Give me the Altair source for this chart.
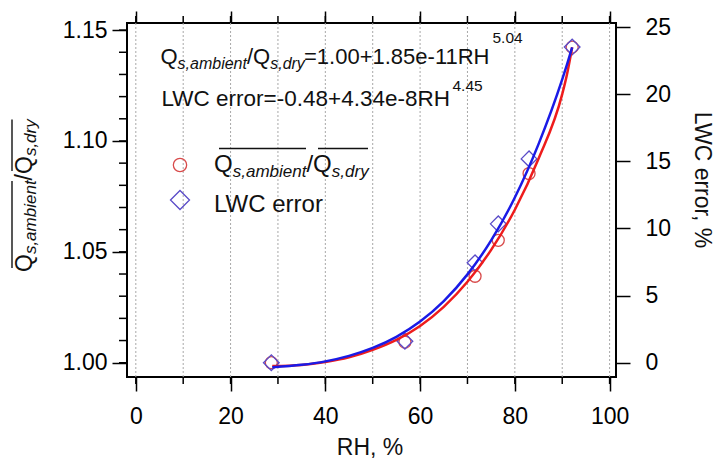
import altair as alt
import pandas as pd

# ---------------- data ----------------
rh_pts = [28.6, 56.8, 71.6, 76.5, 83.0, 92.1]
q_pts = [1.000, 1.0093, 1.039, 1.0552, 1.0853, 1.1423]
lwc_pts = [0.0, 1.6, 7.44, 10.34, 15.18, 23.51]

rh_fit = [28.8, 35, 40, 45, 50, 55, 60, 65, 70, 75, 80, 85, 90, 91, 92.1]
q_fit = [0.9985, 0.9990, 1.0003, 1.0024, 1.0058, 1.0103, 1.0166, 1.0252,
         1.0365, 1.0509, 1.0690, 1.0920, 1.1211, 1.1300, 1.1423]
lwc_fit = [-0.34, -0.16, 0.10, 0.51, 1.10, 1.93, 3.07, 4.59,
           6.58, 9.11, 12.30, 16.28, 21.10, 22.20, 23.48]

x_major = [0, 20, 40, 60, 80, 100]
x_minor = [0, 10, 20, 30, 40, 50, 60, 70, 80, 90, 100]
q_major = [1.00, 1.05, 1.10, 1.15]
q_minor = [1.00, 1.01, 1.02, 1.03, 1.04, 1.05, 1.06, 1.07, 1.08, 1.09,
           1.10, 1.11, 1.12, 1.13, 1.14, 1.15]
lwc_ticks = [0, 5, 10, 15, 20, 25]

X_DOM = [-1.86, 101.35]
Q_DOM = [0.99356, 1.1532]
L_DOM = [-1.064, 25.30]

# ---------------- style ----------------
FONT = "Liberation Sans"
TXT = "#111111"
RED_L = "#ee1c1c"
BLUE_L = "#1a1ae6"
RED_M = "#d84a4a"
BLUE_M = "#5a4bc8"
GRID = "#a8a8a8"
OX, OY = 127, 23
W, H = 489, 354

pts = pd.DataFrame({"rh": rh_pts, "q": q_pts, "lwc": lwc_pts})
fit = pd.DataFrame({"rh": rh_fit, "q": q_fit, "lwc": lwc_fit})
xminor_df = pd.DataFrame({"rh": x_minor})
qminor_df = pd.DataFrame({"q": q_minor})
one = pd.DataFrame({"k": [0]})

xs = alt.Scale(domain=X_DOM, nice=False, zero=False)
qs = alt.Scale(domain=Q_DOM, nice=False, zero=False)
ls = alt.Scale(domain=L_DOM, nice=False, zero=False)

common = dict(domain=False, title=None, tickColor="black", tickWidth=1.5,
              labelFont=FONT, labelFontSize=23, labelColor="black",
              labelFlush=False, labelOverlap=False, grid=False)

# grid and minor ticks drawn through the scales
grid = alt.Chart(xminor_df).mark_rule(color=GRID, strokeDash=[2, 2], strokeWidth=1).encode(
    x=alt.X("rh:Q", scale=xs, axis=None), y=alt.value(0), y2=alt.value(H))
xminor_bottom = alt.Chart(xminor_df).mark_rule(color="black", strokeWidth=1.5).encode(
    x=alt.X("rh:Q", scale=xs, axis=None), y=alt.value(H), y2=alt.value(H + 7))
xminor_top = alt.Chart(xminor_df).mark_rule(color="black", strokeWidth=1.5).encode(
    x=alt.X("rh:Q", scale=xs, axis=None), y=alt.value(0), y2=alt.value(-7))
qminor_left = alt.Chart(qminor_df).mark_rule(color="black", strokeWidth=1.5).encode(
    y=alt.Y("q:Q", scale=qs, axis=None), x=alt.value(0), x2=alt.value(-8))

circles = alt.Chart(pts).mark_point(shape="circle", size=144, filled=False,
                                    color=RED_M, strokeWidth=1.3, opacity=1).encode(
    x=alt.X("rh:Q", scale=xs, axis=None),
    y=alt.Y("q:Q", scale=qs, axis=None),
)
diamonds = alt.Chart(pts).mark_point(shape="diamond", size=246, filled=False,
                                     color=BLUE_M, strokeWidth=1.3, opacity=1).encode(
    x=alt.X("rh:Q", scale=xs, axis=None),
    y=alt.Y("lwc:Q", scale=ls, axis=None),
)
red_line = alt.Chart(fit).mark_line(color=RED_L, strokeWidth=2.5, interpolate="monotone").encode(
    x=alt.X("rh:Q", scale=xs, axis=alt.Axis(orient="bottom", values=x_major, tickSize=14,
                                           labelPadding=14, **common)),
    y=alt.Y("q:Q", scale=qs, axis=alt.Axis(orient="left", values=q_major, tickSize=15,
                                          labelPadding=5, format=".2f", **common)),
)
blue_line = alt.Chart(fit).mark_line(color=BLUE_L, strokeWidth=2.5, interpolate="monotone").encode(
    x=alt.X("rh:Q", scale=xs, axis=alt.Axis(orient="top", values=x_major, tickSize=12,
                                           labels=False, **common)),
    y=alt.Y("lwc:Q", scale=ls, axis=alt.Axis(orient="right", values=lwc_ticks, tickSize=14,
                                            labelPadding=15, **common)),
)


def txt(s, x, y, size, italic=False, angle=0, align="left"):
    return alt.Chart(one).mark_text(
        text=s, font=FONT, fontSize=size, fontStyle="italic" if italic else "normal",
        angle=angle, align=align, baseline="alphabetic", color=TXT,
    ).encode(x=alt.value(x - OX), y=alt.value(y - OY))


def hline(x1, x2, y):
    return alt.Chart(one).mark_rule(color=TXT, strokeWidth=1.4).encode(
        x=alt.value(x1 - OX), x2=alt.value(x2 - OX), y=alt.value(y - OY))


def vline(x, y1, y2):
    return alt.Chart(one).mark_rule(color=TXT, strokeWidth=1.4).encode(
        x=alt.value(x - OX), y=alt.value(y1 - OY), y2=alt.value(y2 - OY))


def sym(shape, size, color, x, y):
    return alt.Chart(one).mark_point(shape=shape, size=size, filled=False, color=color,
                                     strokeWidth=1.3, opacity=1).encode(
        x=alt.value(x - OX), y=alt.value(y - OY))


ann = []
# equation 1
ann += [
    txt("Q", 160.5, 64, 22),
    txt("s,ambient", 177.6, 69, 16, italic=True),
    txt("/", 247.0, 64, 22),
    txt("Q", 253.1, 64, 22),
    txt("s,dry", 270.2, 69, 16, italic=True),
    txt("=1.00+1.85e-11RH", 304.0, 64, 22),
    txt("5.04", 492.5, 42.5, 15.5),
]
# equation 2
ann += [
    txt("LWC error=-0.48+4.34e-8RH", 161.5, 106, 22.5),
    txt("4.45", 452.5, 91, 15.5),
]
# legend
ann += [
    sym("circle", 177, RED_M, 180, 165),
    sym("diamond", 361, BLUE_M, 180, 200),
    txt("Q", 214, 171.7, 24),
    txt("s,ambient", 232.7, 176.7, 17, italic=True),
    txt("/", 306.4, 171.7, 24),
    txt("Q", 313.1, 171.7, 24),
    txt("s,dry", 331.8, 176.7, 17, italic=True),
    hline(219, 306, 148.5),
    hline(318, 368, 148.5),
    txt("LWC error", 214, 211.5, 24),
]
# left axis title (rotated, reading upward)
ann += [
    txt("Q", 31.7, 272, 23, angle=270),
    txt("s,ambient", 36.2, 254.1, 17, italic=True, angle=270),
    txt("/", 31.7, 180.4, 23, angle=270),
    txt("Q", 31.7, 174.0, 23, angle=270),
    txt("s,dry", 36.2, 156.1, 17, italic=True, angle=270),
    vline(12, 268, 181),
    vline(12, 171, 119.5),
]
# bottom and right axis titles
ann += [
    txt("RH, %", 370, 455, 23, align="center"),
    txt("LWC error, %", 695, 180, 23, angle=90, align="center"),
]

chart = alt.layer(grid, xminor_bottom, xminor_top, qminor_left,
                  circles, diamonds, red_line, blue_line, *ann).resolve_scale(
    x="independent", y="independent"
).properties(
    width=W, height=H, autosize="none",
    padding={"left": OX, "top": OY, "right": 716 - OX - W, "bottom": 460 - OY - H},
    background="white",
).configure_view(stroke="black", strokeWidth=2)

chart.save("out.html", embed_options={"renderer": "svg", "actions": False})
